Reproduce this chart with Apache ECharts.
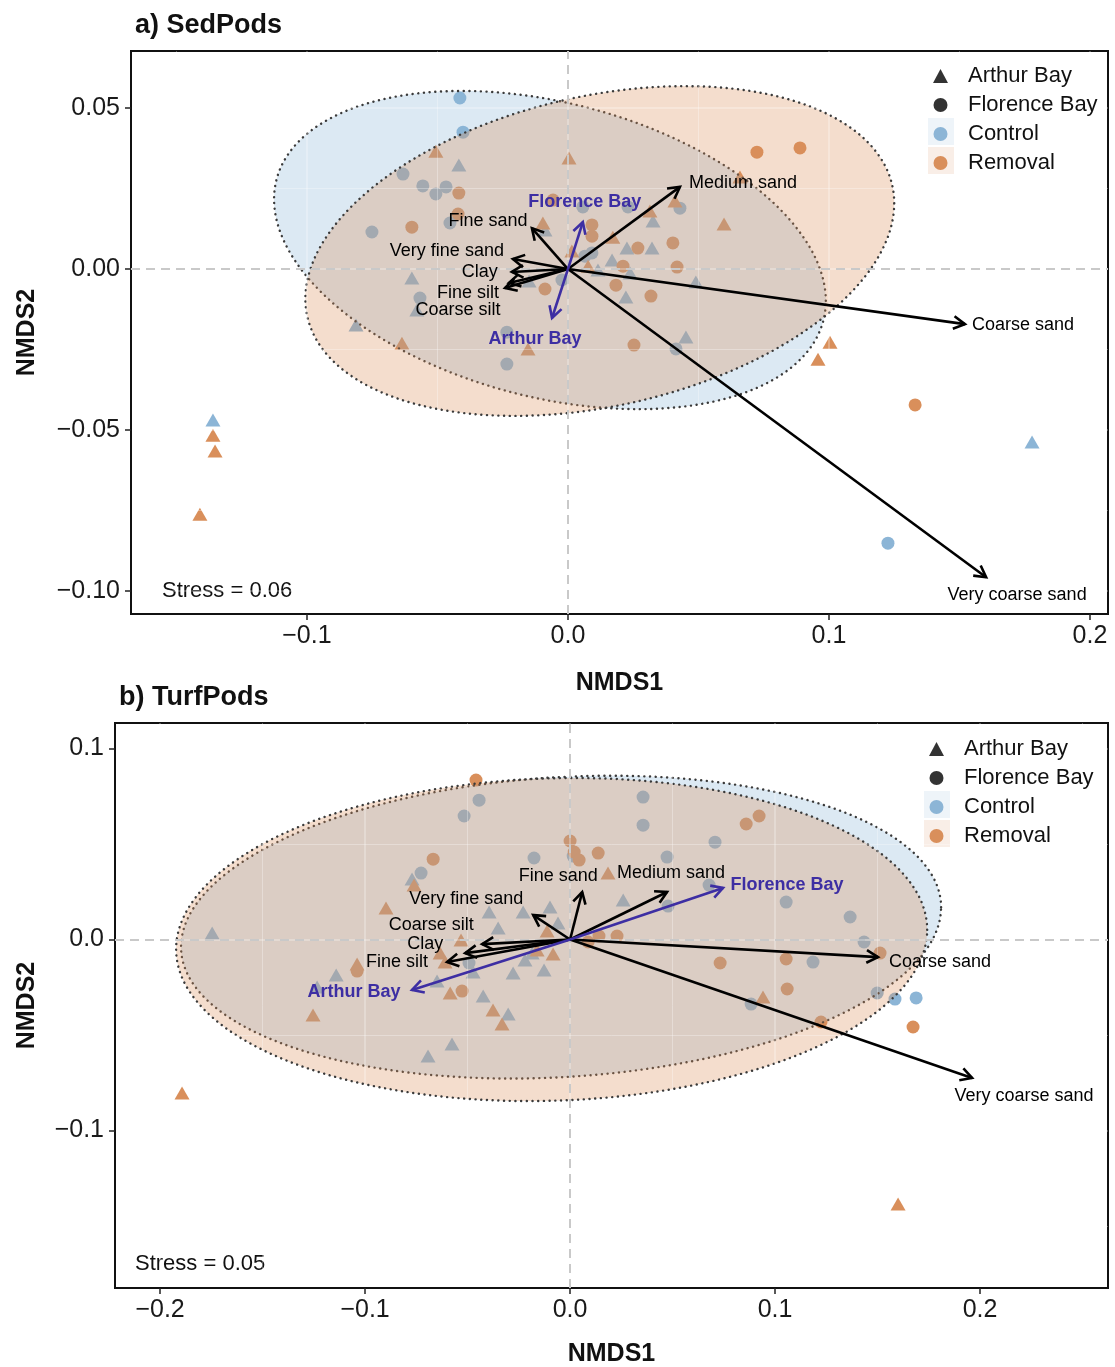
<!DOCTYPE html>
<html><head><meta charset="utf-8">
<script src="https://cdn.jsdelivr.net/npm/echarts@6/dist/echarts.min.js"></script>
<style>html,body{margin:0;padding:0;background:#fff}#c{width:1115px;height:1367px}</style>
</head><body><div id="c"></div>
<script>
// ---------- DATA: panel a) SedPods ----------
const sedCtlArthur = [[-0.0418,0.0323],[-0.0088,0.0121],[0.0326,0.0149],[0.0226,0.0065],[0.0322,0.0065],[0.0169,0.0028],[0.0115,-0.0003],[0.0238,-0.0012],[0.0490,-0.0040],[0.0222,-0.0087],[-0.0598,-0.0028],[-0.0579,-0.0127],[-0.0812,-0.0174],[-0.0149,-0.0037],[0.0452,-0.0211],[-0.1360,-0.0469],[0.1778,-0.0537]];
const sedCtlFlorence = [[-0.0414,0.0531],[-0.0402,0.0425],[-0.0632,0.0295],[-0.0556,0.0258],[-0.0506,0.0233],[-0.0467,0.0255],[-0.0452,0.0143],[-0.0751,0.0115],[0.0057,0.0193],[0.0230,0.0193],[0.0429,0.0189],[0.0065,0.0040],[0.0092,0.0050],[-0.0023,-0.0034],[-0.0567,-0.0090],[-0.0234,-0.0196],[-0.0234,-0.0295],[0.0414,-0.0248],[0.1226,-0.0851]];
const sedRemArthur = [[-0.0506,0.0366],[0.0004,0.0345],[-0.0096,0.0143],[0.0314,0.0180],[0.0410,0.0211],[0.0659,0.0286],[0.0598,0.0140],[0.0172,0.0099],[0.0015,0.0056],[0.0077,0.0009],[-0.0636,-0.0230],[-0.0153,-0.0248],[0.1004,-0.0227],[0.0958,-0.0280],[-0.1360,-0.0516],[-0.1352,-0.0565],[-0.1410,-0.0761]];
const sedRemFlorence = [[-0.0418,0.0236],[-0.0421,0.0171],[-0.0598,0.0130],[-0.0057,0.0214],[0.0092,0.0137],[0.0092,0.0102],[0.0268,0.0065],[0.0402,0.0081],[0.0211,0.0009],[0.0418,0.0006],[0.0184,-0.0050],[-0.0088,-0.0062],[0.0318,-0.0084],[0.0253,-0.0236],[0.0724,0.0363],[0.0889,0.0376],[0.1330,-0.0422]];
const sedVarNames = ['Medium sand','Coarse sand','Very coarse sand','Fine sand','Very fine sand','Clay','Fine silt','Coarse silt'];
const sedVarX = [0.0429,0.1521,0.1602,-0.0138,-0.0211,-0.0215,-0.0241,-0.0226];
const sedVarY = [0.0255,-0.0171,-0.0957,0.0127,0.0031,-0.0009,-0.0059,-0.0043];
const sedSiteNames = ['Florence Bay','Arthur Bay'];
const sedSiteX = [0.0057,-0.0061];
const sedSiteY = [0.0146,-0.0152];
// ellipse: [centre x, centre y, x radius, y radius, phase]
const sedEllipseControl = [-0.0069,0.0059,0.1057,0.0494,1.896];
const sedEllipseRemoval = [0.0122,0.0056,0.1128,0.0512,1.277];
const sedXTicks = [-0.1, 0, 0.1, 0.2];
const sedYTicks = [-0.1, -0.05, 0, 0.05];
const sedStress = 'Stress = 0.06';

// ---------- DATA: panel b) TurfPods ----------
const turfCtlArthur = [[-0.0771,0.0317],[0.0259,0.0207],[-0.0395,0.0144],[-0.0229,0.0144],[-0.0098,0.0170],[-0.0351,0.0060],[-0.0059,0.0086],[-0.1746,0.0034],[-0.0473,-0.0170],[-0.0220,-0.0107],[-0.0185,-0.0071],[-0.0127,-0.0160],[-0.0278,-0.0175],[-0.1141,-0.0186],[-0.0649,-0.0217],[-0.1234,-0.0249],[-0.0424,-0.0296],[-0.0302,-0.0390],[-0.0576,-0.0547],[-0.0693,-0.0610]];
const turfCtlFlorence = [[-0.0444,0.0730],[-0.0517,0.0647],[0.0356,0.0746],[0.0356,0.0599],[-0.0176,0.0427],[0.0015,0.0437],[-0.0727,0.0348],[0.0707,0.0510],[0.0473,0.0432],[0.0678,0.0285],[0.0478,0.0175],[0.1054,0.0196],[0.1366,0.0118],[0.1434,-0.0013],[0.1185,-0.0118],[0.0883,-0.0338],[0.1498,-0.0280],[0.1585,-0.0312],[0.1688,-0.0306],[-0.0493,-0.0123]];
const turfRemArthur = [[-0.0761,0.0285],[0.0185,0.0348],[-0.0898,0.0165],[-0.0112,0.0045],[-0.0532,-0.0003],[-0.0634,-0.0071],[-0.0610,-0.0118],[-0.0161,-0.0055],[-0.0083,-0.0076],[-0.1039,-0.0128],[-0.0585,-0.0280],[-0.1254,-0.0395],[-0.0376,-0.0369],[-0.0332,-0.0442],[0.0941,-0.0301],[-0.1893,-0.0804],[0.1600,-0.1385]];
const turfRemFlorence = [[-0.0459,0.0835],[0.0000,0.0516],[0.0020,0.0458],[0.0044,0.0416],[0.0137,0.0453],[-0.0668,0.0421],[0.0859,0.0605],[0.0922,0.0647],[0.0088,-0.0013],[0.0141,0.0018],[0.0229,0.0018],[0.1512,-0.0071],[0.0732,-0.0123],[0.1054,-0.0102],[0.1059,-0.0259],[0.1224,-0.0432],[0.1673,-0.0458],[-0.1039,-0.0165],[-0.0527,-0.0270]];
const turfVarNames = ['Medium sand','Coarse sand','Very coarse sand','Fine sand','Very fine sand','Clay','Fine silt','Coarse silt'];
const turfVarX = [0.0473,0.1502,0.1961,0.0059,-0.0180,-0.0512,-0.0600,-0.0429];
const turfVarY = [0.0249,-0.0092,-0.0725,0.0249,0.0128,-0.0071,-0.0118,-0.0024];
const turfSiteNames = ['Florence Bay','Arthur Bay'];
const turfSiteX = [0.0746,-0.0771];
const turfSiteY = [0.0270,-0.0264];
const turfEllipseControl = [-0.0044,0.0065,0.1854,0.0793,1.44];
const turfEllipseRemoval = [-0.0090,0.0000,0.1832,0.0846,1.511];
const turfXTicks = [-0.2, -0.1, 0, 0.1, 0.2];
const turfYTicks = [-0.1, 0, 0.1];
const turfStress = 'Stress = 0.05';

// ---------- STYLE ----------
const FONT = '"Liberation Sans", Arial, Helvetica, sans-serif';
const COL_CTL = '#8cb5d6';
const COL_REM = '#d98f5b';
const FILL_CTL = 'rgba(140,181,214,0.3)';
const FILL_REM = 'rgba(217,143,91,0.3)';
const PURPLE = '#3d2ea3';
// label offsets in pixels, relative to the arrow tip
const sedVarLabelOffset = [[63,-4],[58,1],[31,18],[-44,-7],[-66,-8],[-32,0],[-37,5],[-51,27]];
const sedSiteLabelOffset = [[2,-20],[-17,21]];
const turfVarLabelOffset = [[4,-19],[62,5],[52,18],[-24,-16],[-67,-16],[-40,-9],[-50,0],[-51,-19]];
const turfSiteLabelOffset = [[64,-3],[-58,2]];

function pts(arr, shape) {
  return arr.map(p => shape === 'triangle'
    ? { value: p, symbol: 'triangle', symbolSize: [15, 13] }
    : { value: p, symbol: 'circle', symbolSize: 13 });
}

function ellipseRender(fills) {
  return function (params, api) {
    const cx = api.value(0), cy = api.value(1), ax = api.value(2), ay = api.value(3), ph = api.value(4);
    const poly = [];
    const N = 180;
    for (let k = 0; k < N; k++) {
      const t = 2 * Math.PI * k / N;
      poly.push(api.coord([cx + ax * Math.cos(t), cy + ay * Math.cos(t - ph)]));
    }
    return {
      type: 'polygon', shape: { points: poly },
      style: { fill: fills[params.dataIndex], stroke: '#3a3a3a', lineWidth: 2.4, lineDash: [0.1, 5.6], lineCap: 'round' }
    };
  };
}

function arrowRender(names, offsets, color, bold) {
  return function (params, api) {
    const i = params.dataIndex;
    const o = api.coord([0, 0]);
    const t = api.coord([api.value(0), api.value(1)]);
    const ang = Math.atan2(t[1] - o[1], t[0] - o[0]);
    const L = 13, w = Math.PI / 6.2;
    const p1 = [t[0] - L * Math.cos(ang - w), t[1] - L * Math.sin(ang - w)];
    const p2 = [t[0] - L * Math.cos(ang + w), t[1] - L * Math.sin(ang + w)];
    const off = offsets[i];
    return {
      type: 'group', children: [
        { type: 'line', shape: { x1: o[0], y1: o[1], x2: t[0], y2: t[1] }, style: { stroke: color, lineWidth: 2.6 } },
        { type: 'polyline', shape: { points: [p1, t, p2] }, style: { stroke: color, lineWidth: 2.6, fill: null, lineJoin: 'miter' } },
        { type: 'text', x: t[0] + off[0], y: t[1] + off[1], z2: 10,
          style: { text: names[i], fill: color, font: (bold ? 'bold ' : '') + '18px ' + FONT, align: 'center', verticalAlign: 'middle' } }
      ]
    };
  };
}

function tickFmt(step, dec) {
  return function (v) {
    const r = v / step;
    if (Math.abs(r - Math.round(r)) > 1e-6) return '';
    const a = Math.abs(v) < 1e-9 ? 0 : v;
    return (a < 0 ? '\u2212' : '') + Math.abs(a).toFixed(dec);
  };
}

function xAxisCfg(gi, min, max, step, dec, gap, ticks) {
  return {
    type: 'value', gridIndex: gi, min: min, max: max, splitNumber: 5, z: 4,
    name: 'NMDS1', nameLocation: 'middle', nameGap: gap, nameMoveOverlap: false,
    nameTextStyle: { fontFamily: FONT, fontWeight: 'bold', fontSize: 25, color: '#111' },
    axisLine: { show: true, onZero: false, lineStyle: { color: '#111', width: 2 } },
    axisTick: { show: true, length: 6, customValues: ticks, lineStyle: { color: '#222', width: 1.5 } },
    axisLabel: { margin: 10, customValues: ticks, fontFamily: FONT, fontSize: 25, color: '#1a1a1a', formatter: tickFmt(step, dec) },
    splitLine: { show: true, lineStyle: { color: 'rgba(255,255,255,0.35)', width: 1.5 } },
    minorTick: { show: false, splitNumber: 2 },
    minorSplitLine: { show: true, lineStyle: { color: 'rgba(255,255,255,0.3)', width: 1 } }
  };
}
function yAxisCfg(gi, min, max, step, dec, gap, split, ticks) {
  return {
    type: 'value', gridIndex: gi, min: min, max: max, splitNumber: split, z: 4,
    name: 'NMDS2', nameLocation: 'middle', nameGap: gap, nameRotate: 90, nameMoveOverlap: false,
    nameTextStyle: { fontFamily: FONT, fontWeight: 'bold', fontSize: 25, color: '#111' },
    axisLine: { show: true, onZero: false, lineStyle: { color: '#111', width: 2 } },
    axisTick: { show: true, length: 6, customValues: ticks, lineStyle: { color: '#222', width: 1.5 } },
    axisLabel: { margin: 11, customValues: ticks, fontFamily: FONT, fontSize: 25, color: '#1a1a1a', formatter: tickFmt(step, dec) },
    splitLine: { show: true, lineStyle: { color: 'rgba(255,255,255,0.35)', width: 1.5 } },
    minorTick: { show: false, splitNumber: 2 },
    minorSplitLine: { show: true, lineStyle: { color: 'rgba(255,255,255,0.3)', width: 1 } }
  };
}

const zeroLines = {
  silent: true, symbol: ['none', 'none'], label: { show: false }, animation: false,
  lineStyle: { color: '#c9c9c9', type: [9, 6], width: 2 },
  emphasis: { disabled: true },
  data: [{ xAxis: 0 }, { yAxis: 0 }]
};

function panelSeries(gi, ctlA, ctlF, remA, remF, ellC, ellR, vNames, vX, vY, vOff, sNames, sX, sY, sOff) {
  return [
    { type: 'scatter', name: 'Control', xAxisIndex: gi, yAxisIndex: gi, z: 2,
      itemStyle: { color: COL_CTL, opacity: 1 }, data: pts(ctlA, 'triangle').concat(pts(ctlF, 'circle')),
      markLine: zeroLines },
    { type: 'scatter', name: 'Removal', xAxisIndex: gi, yAxisIndex: gi, z: 2,
      itemStyle: { color: COL_REM, opacity: 1 }, data: pts(remA, 'triangle').concat(pts(remF, 'circle')) },
    { type: 'custom', name: 'ellipses' + gi, xAxisIndex: gi, yAxisIndex: gi, z: 3, silent: true,
      renderItem: ellipseRender([FILL_CTL, FILL_REM]), data: [ellC, ellR] },
    { type: 'custom', name: 'vectors' + gi, xAxisIndex: gi, yAxisIndex: gi, z: 5, silent: true, clip: false,
      renderItem: arrowRender(vNames, vOff, '#000', false), data: vX.map((x, i) => [x, vY[i]]) },
    { type: 'custom', name: 'sites' + gi, xAxisIndex: gi, yAxisIndex: gi, z: 5, silent: true, clip: false,
      renderItem: arrowRender(sNames, sOff, PURPLE, true), data: sX.map((x, i) => [x, sY[i]]) }
  ];
}

const legendCommon = {
  orient: 'vertical', padding: 0, itemWidth: 15, itemHeight: 14, itemGap: 7, selectedMode: false,
  formatter: function (name) { return '{g|}' + name; },
  textStyle: { fontFamily: FONT, fontSize: 22, lineHeight: 22, color: '#111',
    rich: { g: { width: 15, height: 22 } } },
  data: [{ name: 'Arthur Bay', icon: 'triangle' }, { name: 'Florence Bay', icon: 'circle' },
         { name: 'Control', icon: 'circle' }, { name: 'Removal', icon: 'circle' }]
};

const chart = echarts.init(document.getElementById('c'));
chart.setOption({
  animation: false,
  backgroundColor: '#fff',
  title: [
    { text: 'a) SedPods', left: 130, top: 7, textStyle: { fontFamily: FONT, fontWeight: 'bold', fontSize: 27, color: '#111' } },
    { text: 'b) TurfPods', left: 114, top: 679, textStyle: { fontFamily: FONT, fontWeight: 'bold', fontSize: 27, color: '#111' } }
  ],
  grid: [
    { left: 131, top: 51, width: 977, height: 563, show: true, borderColor: '#111', borderWidth: 2, containLabel: false, outerBoundsMode: 'none' },
    { left: 115, top: 723, width: 993, height: 565, show: true, borderColor: '#111', borderWidth: 2, containLabel: false, outerBoundsMode: 'none' }
  ],
  xAxis: [xAxisCfg(0, -0.1674, 0.2069, 0.1, 1, 57, sedXTicks), xAxisCfg(1, -0.222, 0.2624, 0.1, 1, 54, turfXTicks)],
  yAxis: [yAxisCfg(0, -0.1071, 0.0677, 0.05, 2, 91, 4, sedYTicks), yAxisCfg(1, -0.1825, 0.1134, 0.1, 1, 75, 3, turfYTicks)],
  legend: [
    Object.assign({}, legendCommon, { left: 933, top: 65 }),
    Object.assign({}, legendCommon, { left: 929, top: 738 })
  ],
  graphic: [
    { type: 'rect', left: 928, top: 118, shape: { width: 26, height: 27 }, style: { fill: 'rgba(140,181,214,0.15)' }, z: -1 },
    { type: 'rect', left: 928, top: 147, shape: { width: 26, height: 27 }, style: { fill: 'rgba(217,143,91,0.15)' }, z: -1 },
    { type: 'rect', left: 924, top: 791, shape: { width: 26, height: 27 }, style: { fill: 'rgba(140,181,214,0.15)' }, z: -1 },
    { type: 'rect', left: 924, top: 820, shape: { width: 26, height: 27 }, style: { fill: 'rgba(217,143,91,0.15)' }, z: -1 },
    { type: 'text', left: 162, top: 580, style: { text: sedStress, font: '22px ' + FONT, fill: '#111' } },
    { type: 'text', left: 135, top: 1253, style: { text: turfStress, font: '22px ' + FONT, fill: '#111' } }
  ],
  series: [].concat(
    panelSeries(0, sedCtlArthur, sedCtlFlorence, sedRemArthur, sedRemFlorence, sedEllipseControl, sedEllipseRemoval,
      sedVarNames, sedVarX, sedVarY, sedVarLabelOffset, sedSiteNames, sedSiteX, sedSiteY, sedSiteLabelOffset),
    panelSeries(1, turfCtlArthur, turfCtlFlorence, turfRemArthur, turfRemFlorence, turfEllipseControl, turfEllipseRemoval,
      turfVarNames, turfVarX, turfVarY, turfVarLabelOffset, turfSiteNames, turfSiteX, turfSiteY, turfSiteLabelOffset),
    [
      { type: 'scatter', name: 'Arthur Bay', xAxisIndex: 0, yAxisIndex: 0, symbol: 'triangle', itemStyle: { color: '#000' }, data: [] },
      { type: 'scatter', name: 'Florence Bay', xAxisIndex: 0, yAxisIndex: 0, symbol: 'circle', itemStyle: { color: '#000' }, data: [] }
    ]
  )
});
</script>
</body></html>
